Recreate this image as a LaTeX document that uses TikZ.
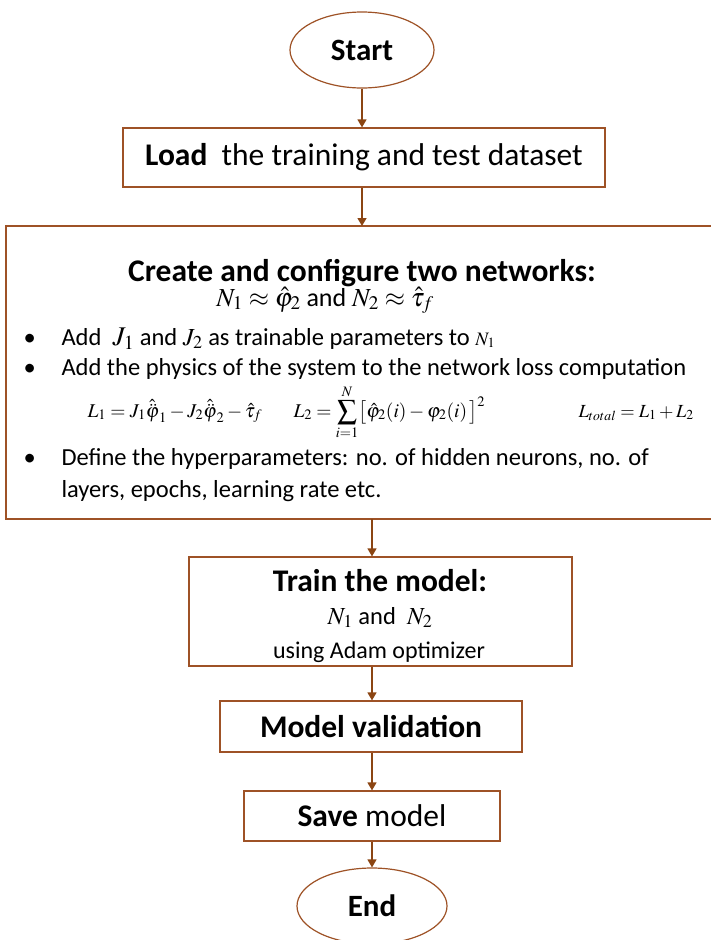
\documentclass[tikz,border=0pt]{standalone}
\usepackage{mathptmx}
\usepackage{fontspec}
\setmainfont{Carlito}
\usetikzlibrary{shapes.geometric,arrows.meta}
\definecolor{edge}{RGB}{158,82,38}
\definecolor{arrowc}{RGB}{139,69,19}
\tikzset{
  flowbox/.style={draw=edge, line width=1.2pt, fill=white, inner sep=0pt},
  term/.style={ellipse, draw=edge, line width=1.2pt, fill=white, inner sep=0pt},
  flow/.style={draw=arrowc, line width=1.4pt, -{Triangle[length=8pt,width=9pt]}},
  bul/.style={anchor=base west, font=\fontsize{24.5}{28}\selectfont}
}
\begin{document}
\begin{tikzpicture}[x=1pt,y=-1pt]
\useasboundingbox (0,0) rectangle (710,940);

% terminals
\node[term, minimum width=144pt, minimum height=76pt] (start) at (362,50)
  {\fontsize{31}{36}\selectfont\bfseries Start};
\node[term, minimum width=150pt, minimum height=76pt] (end) at (372,906)
  {\fontsize{31}{36}\selectfont\bfseries End};

% process boxes
\node[flowbox, minimum width=482pt, minimum height=59pt] (load) at (364,157.5)
  {\fontsize{31.5}{36}\selectfont\textbf{Load}\ \ the training and test dataset};

\draw[edge, line width=1.2pt, fill=white] (6,226) rectangle (712,519);
\coordinate (createtop) at (362,226);
\coordinate (createbot) at (372,519);

\node[anchor=base, font=\fontsize{31.5}{36}\selectfont\bfseries] (ctitle) at (362,281)
  {Create and configure two networks:};
\node[anchor=base, font=\fontsize{26}{28}\selectfont] (cmath) at (325,306)
  {$N_1 \approx \hat{\varphi}_2$ and $N_2 \approx \hat{\tau}_f$};

\node[bul] (b1) at (20,345) {\textbullet};
\node[bul] (t1) at (58,345) {Add\ \ {\fontsize{27}{28}\selectfont$J_1$} and $J_2$ as trainable parameters to {\fontsize{19}{20}\selectfont$N_1$}};
\node[bul] (b2) at (20,375) {\textbullet};
\node[bul] (t2) at (58,375) {Add the physics of the system to the network loss computation};

\node[anchor=base west, font=\fontsize{19.5}{22}\selectfont] (eq1) at (84,417)
  {$L_1 = J_1\hat{\ddot{\varphi}}_1 - J_2\hat{\ddot{\varphi}}_2 - \hat{\tau}_f$};
\node[anchor=base west, font=\fontsize{19.5}{22}\selectfont] (eq2) at (290,417)
  {$L_2 = \displaystyle\sum_{i=1}^{N}\bigl[\hat{\varphi}_2(i) - \varphi_2(i)\,\bigr]^2$};
\node[anchor=base west, font=\fontsize{18.5}{22}\selectfont] (eq3) at (575,417)
  {$L_{total} = L_1 + L_2$};

\node[bul] (b3) at (20,465) {\textbullet};
\node[bul] (t3) at (58,465) {Define the hyperparameters: no. of hidden neurons, no. of};
\node[bul] (t4) at (58,497) {layers, epochs, learning rate etc.};

\node[flowbox, minimum width=383pt, minimum height=109pt] (train) at (380.5,611.5) {};
\node[anchor=base, font=\fontsize{31.5}{36}\selectfont\bfseries] (ttitle) at (380,591) {Train the model:};
\node[anchor=base, font=\fontsize{24.5}{28}\selectfont] (tmath) at (380,624) {$N_1$ and\ \ $N_2$};
\node[anchor=base, font=\fontsize{24}{28}\selectfont] (tadam) at (379,658) {using Adam optimizer};

\node[flowbox, minimum width=302pt, minimum height=51pt] (valid) at (371,726.5)
  {\fontsize{31.5}{36}\selectfont\bfseries Model validation};
\node[flowbox, minimum width=256pt, minimum height=50pt] (save) at (372,816)
  {\fontsize{31.5}{36}\selectfont\textbf{Save} model};

% connectors
\draw[flow] (start.south) -- (load.north -| start.south);
\draw[flow] (load.south -| createtop) -- (createtop);
\draw[flow] (createbot) -- (train.north -| createbot);
\draw[flow] (train.south -| createbot) -- (valid.north -| createbot);
\draw[flow] (valid.south -| createbot) -- (save.north -| createbot);
\draw[flow] (save.south -| createbot) -- (end.north);
\end{tikzpicture}
\end{document}
